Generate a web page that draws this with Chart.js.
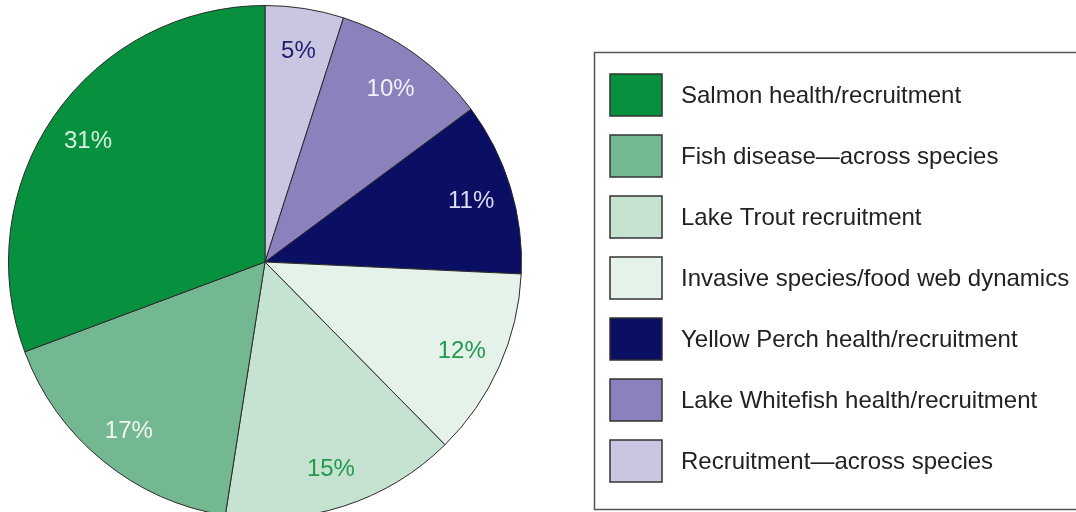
<!DOCTYPE html>
<html>
<head>
<meta charset="utf-8">
<script src="https://cdn.jsdelivr.net/npm/chart.js@4/dist/chart.umd.min.js"></script>
<style>
  html, body { margin: 0; padding: 0; background: #fff; overflow: hidden; }
  #wrap { width: 1076px; height: 512px; overflow: hidden; }
</style>
</head>
<body>
<div id="wrap"><canvas id="myChart" width="1076" height="519"></canvas></div>
<script>
// categories in legend order (top to bottom)
const categories = [
    "Salmon health/recruitment",
    "Fish disease\u2014across species",
    "Lake Trout recruitment",
    "Invasive species/food web dynamics",
    "Yellow Perch health/recruitment",
    "Lake Whitefish health/recruitment",
    "Recruitment\u2014across species"
];
const shares = [31, 17, 15, 12, 11, 10, 5]; // percent

const sliceColors = ["#07913f", "#74b892", "#c6e2d1", "#e5f2ea", "#0a0f63", "#8a81bd", "#cac6e2"];
const labelColors = ["#d9f1de", "#eef8f0", "#23994e", "#23994e", "#dcdcf2", "#f2f0fa", "#1d1f6e"];

const FONT = "'Liberation Sans', Arial, sans-serif";

// pie is drawn clockwise from the top, legend lists them the other way round
const pieLabels = categories.slice().reverse();
const pieValues = shares.slice().reverse();
const pieColors = sliceColors.slice().reverse();
const pieLabelColors = labelColors.slice().reverse();

// percent text inside each slice
const sliceLabels = {
    id: "sliceLabels",
    afterDatasetsDraw(chart) {
        const ctx = chart.ctx;
        const arcs = chart.getDatasetMeta(0).data;
        ctx.save();
        ctx.font = "24px " + FONT;
        ctx.textAlign = "center";
        ctx.textBaseline = "middle";
        arcs.forEach((arc, i) => {
            const p = arc.getProps(["x", "y", "startAngle", "endAngle", "outerRadius"], true);
            const mid = (p.startAngle + p.endAngle) / 2;
            const r = p.outerRadius * 0.84;
            ctx.fillStyle = pieLabelColors[i];
            ctx.fillText(pieValues[i] + "%", p.x + Math.cos(mid) * r, p.y + Math.sin(mid) * r + 2);
        });
        ctx.restore();
    }
};

// boxed legend on the right
const boxLegend = {
    id: "boxLegend",
    afterDraw(chart) {
        const ctx = chart.ctx;
        ctx.save();
        ctx.strokeStyle = "#555";
        ctx.lineWidth = 1.5;
        ctx.strokeRect(594.5, 52.5, 500, 457);
        ctx.font = "24px " + FONT;
        ctx.textBaseline = "middle";
        ctx.textAlign = "left";
        categories.forEach((name, i) => {
            const cy = 95 + i * 61;
            ctx.fillStyle = sliceColors[i];
            ctx.fillRect(610, cy - 21, 52, 42);
            ctx.strokeStyle = "#333";
            ctx.lineWidth = 1.5;
            ctx.strokeRect(610, cy - 21, 52, 42);
            ctx.fillStyle = "#222";
            ctx.fillText(name, 681, cy + 1);
        });
        ctx.restore();
    }
};

const myChart = new Chart("myChart", {
    type: "pie",
    data: {
        labels: pieLabels,
        datasets: [{
            data: pieValues,
            backgroundColor: pieColors,
            borderColor: "#2a2a2a",
            borderWidth: 1,
            hoverOffset: 0
        }]
    },
    options: {
        responsive: false,
        animation: false,
        layout: { padding: { left: 8, top: 5, right: 554, bottom: 0 } },
        plugins: {
            legend: { display: false },
            tooltip: { enabled: false }
        }
    },
    plugins: [sliceLabels, boxLegend]
});
</script>
</body>
</html>
